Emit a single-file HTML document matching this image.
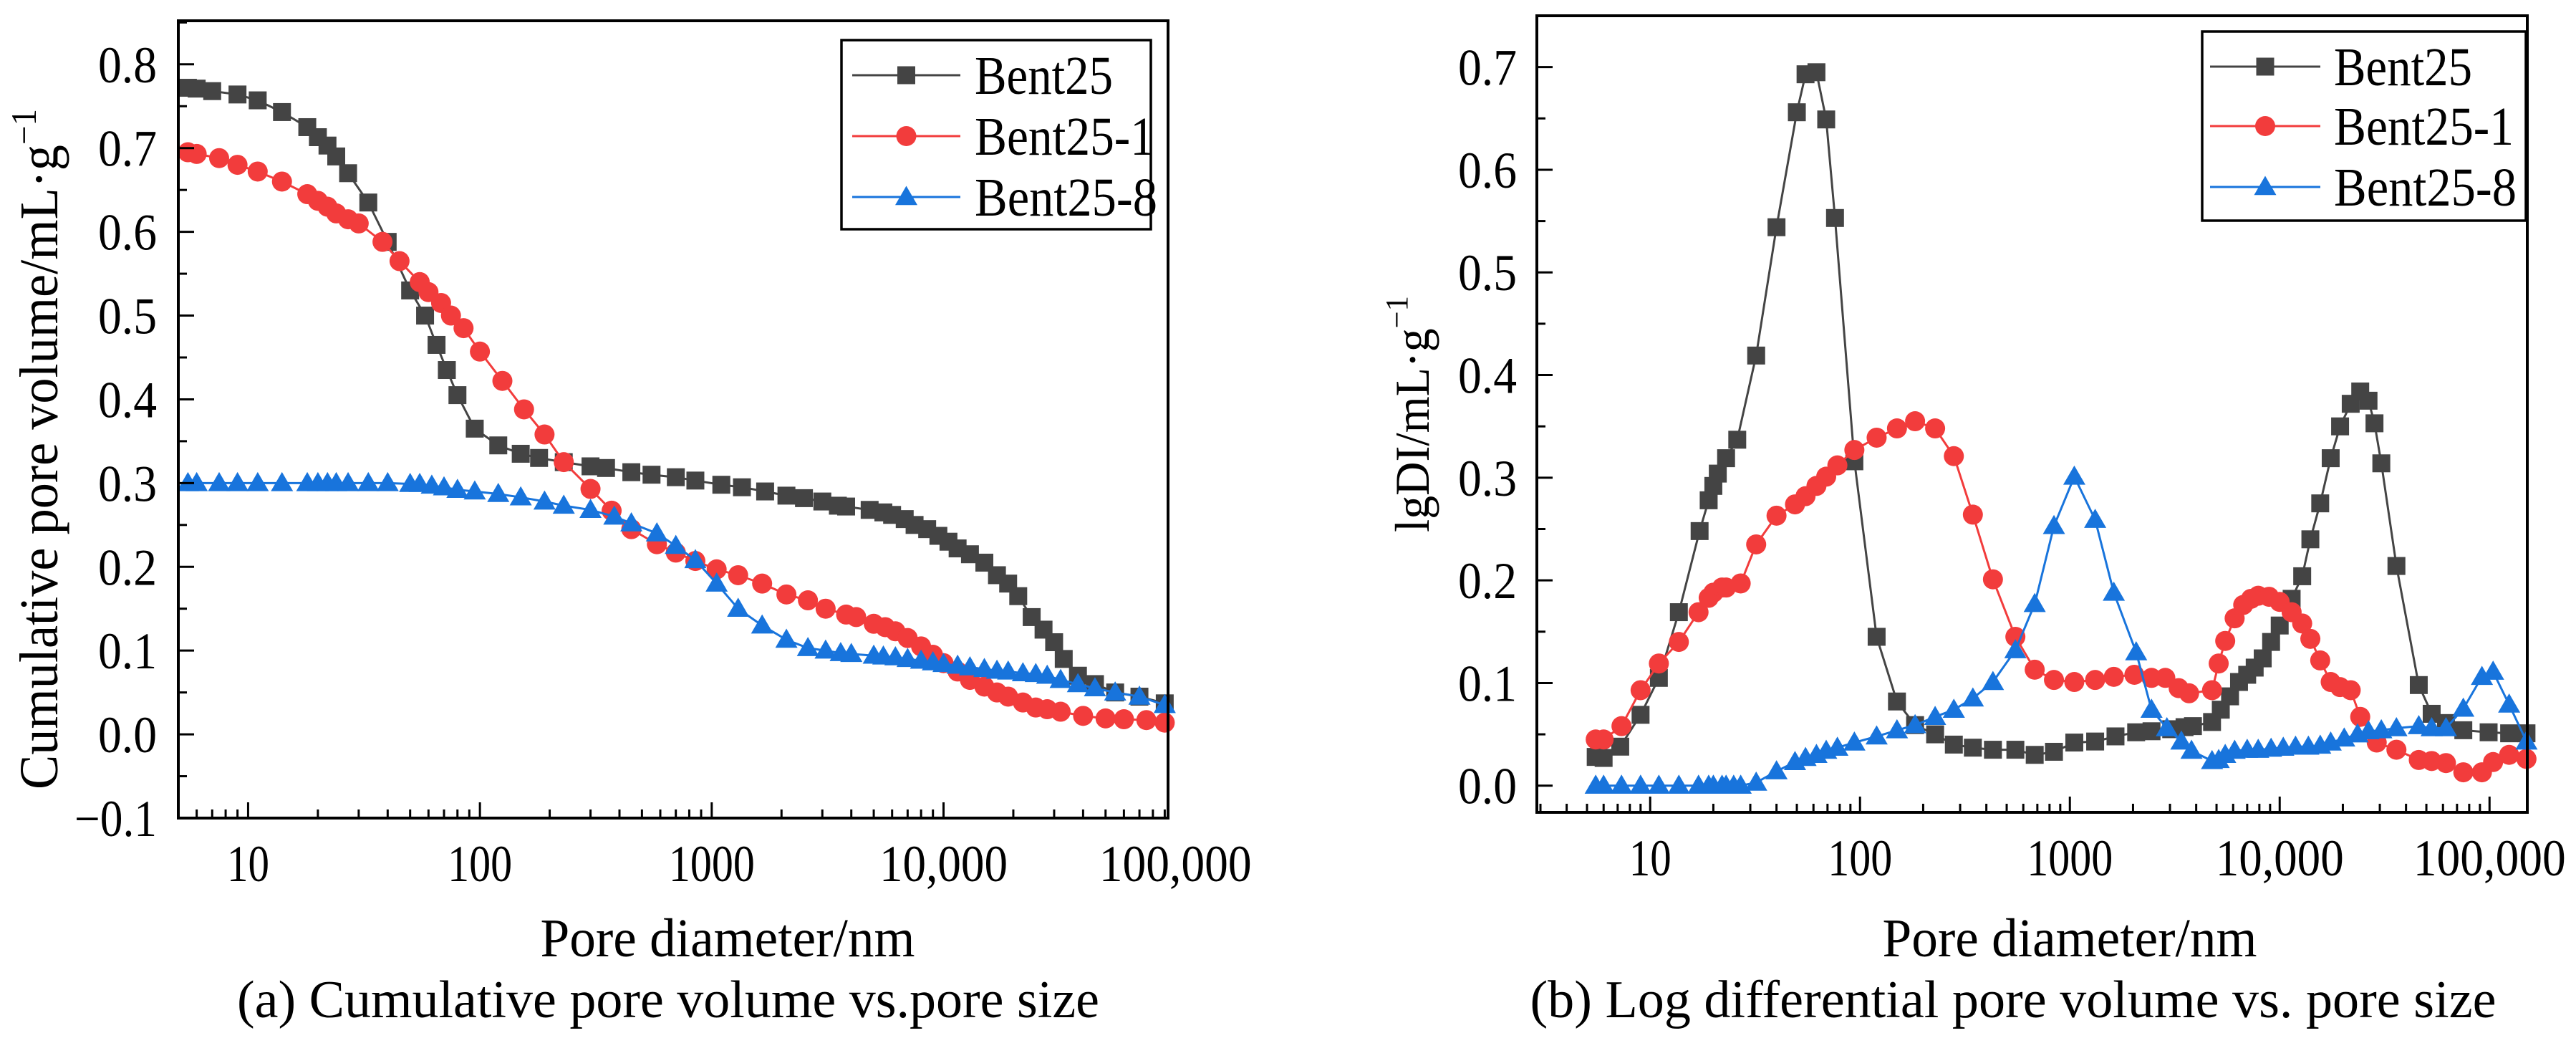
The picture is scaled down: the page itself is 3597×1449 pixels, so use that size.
<!DOCTYPE html>
<html><head><meta charset="utf-8"><style>
html,body{margin:0;padding:0;background:#fff;}
svg, svg text{font-family:"Liberation Serif","DejaVu Serif",serif;}
</style></head><body>
<svg id="svg" width="3597" height="1444" viewBox="0 0 3597 1444" xmlns="http://www.w3.org/2000/svg" font-family="Liberation Serif, DejaVu Serif, serif"></svg>
<script>
const aLabels = ["Bent25","Bent25-1","Bent25-8"];
const aX0 = [5.5,6,7,9,11,14,18,20,22,24,27,33,40,50,58,65,72,80,95,120,150,180,230,300,350,450,550,700,850,1100,1350,1700,2100,2500,3000,3500,3800,4800,5500,6000,6800,7500,8500,9500,10500,11500,13000,15000,17000,19000,21000,24000,27000,30000,33000,38000,45000,55000,70000,90000];
const aY0 = [.772,.771,.768,.764,.757,.743,.725,.713,.703,.69,.67,.635,.588,.53,.50,.465,.435,.405,.365,.345,.335,.33,.325,.32,.318,.313,.31,.307,.303,.298,.295,.29,.285,.282,.278,.273,.272,.268,.265,.262,.257,.25,.245,.237,.23,.222,.215,.205,.19,.18,.165,.14,.125,.11,.09,.07,.06,.05,.045,.037];
const aX1 = [5.5,6,7.5,9,11,14,18,20,22,24,27,30,38,45,55,60,68,75,85,100,125,155,190,230,300,370,450,580,700,850,1050,1300,1650,2100,2600,3100,3800,4200,5000,5600,6200,7000,8000,9000,10000,11500,13000,15000,17000,19000,22000,25000,28000,32000,40000,50000,60000,75000,90000];
const aY1 = [.695,.693,.688,.68,.672,.66,.645,.637,.63,.622,.615,.61,.588,.565,.54,.528,.515,.50,.485,.457,.422,.388,.358,.325,.293,.267,.245,.227,.217,.207,.197,.19,.18,.167,.16,.15,.143,.14,.132,.128,.123,.115,.105,.095,.085,.075,.065,.057,.05,.045,.038,.032,.03,.027,.022,.019,.018,.017,.014];
const aX2 = [5.5,6,7.5,9,11,14,18,20,22,24,27,33,40,50,55,62,70,80,95,120,150,190,230,300,380,450,580,700,850,1050,1300,1650,2100,2600,3100,3600,4000,5000,5500,6200,7000,8000,9000,10000,11500,13000,15000,17000,19000,22000,25000,28000,32000,38000,45000,55000,70000,90000];
const aY2 = [.3,.3,.3,.3,.3,.3,.3,.3,.3,.3,.3,.3,.3,.299,.299,.297,.295,.292,.29,.287,.283,.278,.273,.268,.26,.252,.24,.225,.208,.18,.15,.13,.113,.103,.1,.097,.096,.094,.093,.092,.09,.088,.086,.084,.082,.08,.078,.076,.075,.073,.072,.07,.065,.06,.055,.05,.045,.035];
const aYTicks = [-0.1,0,0.1,0.2,0.3,0.4,0.5,0.6,0.7,0.8];
const aYTickLabels = ["\u22120.1","0.0","0.1","0.2","0.3","0.4","0.5","0.6","0.7","0.8"];
const xTicks = [10,100,1000,10000,100000];
const xTickLabels = ["10","100","1000","10,000","100,000"];

const bX0 = [5.5,6,7.2,9,11,13.7,17.2,19,20,21,23,26,32,40,50,55,62,69,76,94,120,150,183,228,280,345,430,550,680,840,1050,1320,1650,2070,2450,3040,3520,3860,4760,5240,5800,6400,7000,7600,8300,9100,10000,11400,12800,14000,15600,17500,19400,21800,24200,26500,28300,30500,36000,46000,53000,62000,75000,99000,124000,150000];
const bY0 = [.028,.027,.038,.069,.105,.169,.248,.278,.292,.304,.319,.337,.419,.544,.656,.693,.695,.649,.553,.316,.145,.082,.059,.05,.04,.037,.035,.035,.03,.033,.042,.043,.048,.052,.053,.055,.057,.058,.062,.074,.087,.101,.108,.115,.124,.14,.156,.182,.204,.24,.275,.319,.35,.372,.384,.375,.353,.314,.214,.098,.07,.061,.054,.052,.051,.051];
const bX1 = [5.5,6,7.3,9,11,13.7,17,19,20,22,23,27,32,40,49,55,62,69,78,94,120,150,183,228,280,345,430,550,680,840,1050,1320,1620,2030,2450,2850,3300,3700,4760,5120,5500,6100,6700,7300,7900,8900,10000,11400,12800,14000,15600,17500,19400,21800,24200,29000,36000,46000,53000,62000,75000,92000,104000,124000,150000];
const bY1 = [.045,.045,.058,.093,.119,.14,.169,.183,.188,.193,.193,.197,.235,.263,.274,.282,.292,.301,.312,.327,.339,.348,.355,.348,.321,.264,.201,.145,.113,.103,.101,.103,.106,.108,.105,.105,.095,.09,.093,.119,.141,.163,.176,.182,.185,.184,.179,.169,.158,.143,.122,.101,.096,.093,.067,.042,.035,.025,.024,.022,.013,.013,.023,.03,.026];
const bX2 = [5.5,6,7.3,9,11,13.7,17,19,20,22,23,25,27,32,40,49,55,62,69,78,94,120,150,183,228,280,345,430,550,680,840,1050,1320,1620,2070,2450,2900,3400,3800,4760,5120,5500,6100,7000,7900,9100,10400,11900,13700,15600,17500,20300,23500,26500,30500,36000,46000,53000,62000,75000,92000,104000,124000,150000];
const bY2 = [0,0,0,0,0,0,0,0,0,0,0,0,0,.003,.014,.023,.027,.03,.034,.037,.042,.048,.054,.059,.067,.074,.085,.101,.132,.177,.253,.301,.259,.188,.13,.074,.056,.043,.034,.024,.025,.03,.034,.035,.035,.036,.037,.038,.038,.039,.042,.046,.05,.053,.054,.056,.058,.056,.056,.075,.106,.111,.079,.043];
const bYTicks = [0,0.1,0.2,0.3,0.4,0.5,0.6,0.7];
const bYTickLabels = ["0.0","0.1","0.2","0.3","0.4","0.5","0.6","0.7"];

const NS = "http://www.w3.org/2000/svg";
const FONT = "Liberation Serif, DejaVu Serif, serif";
const svg = document.getElementById("svg");
const COLORS = ["#444444","#f23c3c","#1874dc"];
const MARKERS = ["square","circle","triangle"];
function mk(tag, attrs, parent){
  const e = document.createElementNS(NS, tag);
  for (const k in attrs) e.setAttribute(k, attrs[k]);
  if (tag === "text") e.setAttribute("font-family", FONT);
  (parent||svg).appendChild(e);
  return e;
}
function fit(t, w){
  t.setAttribute("textLength", w);
  t.setAttribute("lengthAdjust", "spacingAndGlyphs");
}
function marker(g, type, x, y, color, s){
  let m;
  if (type==="square") m = mk("rect",{x:x-s/2,y:y-s/2,width:s,height:s,fill:color},g);
  else if (type==="circle") m = mk("circle",{cx:x,cy:y,r:s/2+1.5,fill:color},g);
  else m = mk("polygon",{points:`${x},${y-s*0.62} ${x-s*0.62},${y+s*0.45} ${x+s*0.62},${y+s*0.45}`,fill:color},g);
  return m;
}
const XLW = {"10":59,"100":90,"1000":120,"10,000":179,"100,000":213};
const LGW = {"Bent25":193,"Bent25-1":251,"Bent25-8":255};

function chart(cfg){
  const g = mk("g",{});
  
  
  const {L,R,T,B,xl0,xl1,y0,y1} = cfg;
  const xs = v => L + (Math.log10(v)-xl0)/(xl1-xl0)*(R-L);
  const ys = v => B - (v-y0)/(y1-y0)*(B-T);
  for (let s=0;s<3;s++){
    const sg = mk("g",{},g);
    
    
    const X = cfg.xs[s], Y = cfg.ys[s];
    const pts = X.map((v,i)=>xs(v).toFixed(1)+","+ys(Y[i]).toFixed(1)).join(" ");
    const pl = mk("polyline",{points:pts,fill:"none",stroke:COLORS[s],"stroke-width":3},sg);
    
    
    X.forEach((v,i)=>{
      const m = marker(sg, MARKERS[s], xs(v), ys(Y[i]), COLORS[s], 25);
      
      
    });
  }
  const fr = mk("rect",{x:L,y:T,width:R-L,height:B-T,fill:"none",stroke:"#000","stroke-width":4},g);
  
  
  for (let d=Math.floor(xl0); d<=Math.ceil(xl1); d++){
    for (let k=1;k<10;k++){
      const v = k*Math.pow(10,d);
      const lv = Math.log10(v);
      if (lv < xl0 || lv > xl1) continue;
      const x = xs(v);
      const t = mk("line",{x1:x,x2:x,y1:B,y2:B-(k===1?22:12),stroke:"#000","stroke-width":3},g);
      
      
    }
  }
  xTicks.forEach((v,i)=>{
    const t = mk("text",{x:xs(v),y:B+88,"font-size":72,"text-anchor":"middle"},g);
    t.textContent = xTickLabels[i];
    fit(t, XLW[xTickLabels[i]]);
    
    
  });
  const step = cfg.yticks[1]-cfg.yticks[0];
  cfg.yticks.forEach((v,i)=>{
    const y = ys(v);
    const t = mk("line",{x1:L,x2:L+22,y1:y,y2:y,stroke:"#000","stroke-width":3},g);
    
    
    const ym = ys(v+step/2);
    if (ym > T+2) {
      const m = mk("line",{x1:L,x2:L+12,y1:ym,y2:ym,stroke:"#000","stroke-width":3},g);
      
      
    }
    const lb = mk("text",{x:L-cfg.ylgap,y:y+25,"font-size":72,"text-anchor":"end"},g);
    lb.textContent = cfg.yticklabels[i];
    fit(lb, cfg.yticklabels[i].length > 3 ? 115 : 82);
    
    
  });
  const xt = mk("text",{x:cfg.xtx,y:1335,"font-size":76,"text-anchor":"middle"},g);
  xt.textContent = "Pore diameter/nm";
  fit(xt, 523);
  
  
  const yt = mk("text",{x:0,y:0,"font-size":cfg.ytsize,"text-anchor":"middle",transform:`translate(${cfg.ytx},${cfg.yty}) rotate(-90)`},g);
  yt.innerHTML = cfg.ytitle + '<tspan dy="-30" font-size="'+(cfg.ytsize*0.65)+'">\u22121</tspan>';
  fit(yt, cfg.ytw);
  
  
  const cap = mk("text",{x:cfg.capx,y:1420,"font-size":74,"text-anchor":"middle"},g);
  cap.textContent = cfg.caption;
  fit(cap, cfg.capw);
  
  
  const lg = mk("g",{},g);
  
  
  const Lg = cfg.legend;
  mk("rect",{x:Lg.x0,y:Lg.y0,width:Lg.x1-Lg.x0,height:Lg.y1-Lg.y0,fill:"#fff",stroke:"#000","stroke-width":3.5},lg);
  for (let s=0;s<3;s++){
    const e = mk("g",{},lg);
    
    
    const y = Lg.ys[s];
    mk("line",{x1:Lg.lx0,x2:Lg.lx1,y1:y,y2:y,stroke:COLORS[s],"stroke-width":3},e);
    marker(e, MARKERS[s], (Lg.lx0+Lg.lx1)/2, y, COLORS[s], 25);
    const t = mk("text",{x:Lg.tx,y:y+26,"font-size":76},e);
    t.textContent = cfg.labels[s];
    fit(t, LGW[cfg.labels[s]]);
  }
}

chart({name:"cumulative-chart",L:249,R:1631,T:29,B:1142,xl0:Math.log10(5.0),xl1:Math.log10(93000),y0:-0.1,y1:0.852,
  xs:[aX0,aX1,aX2],ys:[aY0,aY1,aY2],labels:aLabels,yticks:aYTicks,yticklabels:aYTickLabels,ylgap:30,
  xtx:1016,ytx:80,yty:627,ytsize:76,ytw:950,ytitle:"Cumulative pore volume/mL\u00b7g",
  capx:933,capw:1204,caption:"(a) Cumulative pore volume vs.pore size",
  legend:{x0:1175,y0:56,x1:1607,y1:320,ys:[105,190,275],lx0:1190,lx1:1341,tx:1361}});
chart({name:"log-differential-chart",L:2146,R:3529,T:22,B:1134,xl0:0.46,xl1:5.18,y0:-0.026,y1:0.75,
  xs:[bX0,bX1,bX2],ys:[bY0,bY1,bY2],labels:aLabels,yticks:bYTicks,yticklabels:bYTickLabels,ylgap:28,
  xtx:2890,ytx:1995,yty:578,ytsize:68,ytw:330,ytitle:"lgDI/mL\u00b7g",
  capx:2811,capw:1349,caption:"(b) Log differential pore volume vs. pore size",
  legend:{x0:3075,y0:44,x1:3527,y1:308,ys:[93,176,261],lx0:3086,lx1:3240,tx:3259}});
</script>
</body></html>
